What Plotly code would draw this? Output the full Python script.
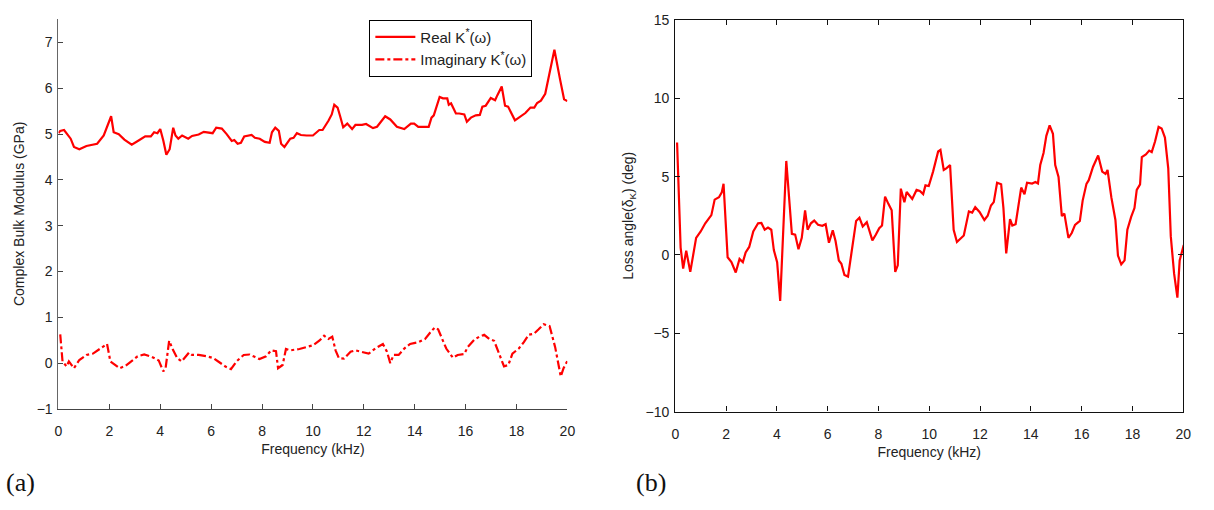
import plotly.graph_objects as go

# ---------------- data ----------------
real_f = [0.0, 0.07, 0.22, 0.39, 0.48, 0.61, 0.82, 1.10, 1.36, 1.52, 1.78, 2.07, 2.17, 2.37, 2.59, 2.88,
          3.15, 3.41, 3.63, 3.76, 3.89, 4.00, 4.12, 4.24, 4.37, 4.51, 4.60, 4.71, 4.86, 5.10, 5.25,
          5.51, 5.71, 5.90, 6.06, 6.20, 6.42, 6.61, 6.81, 6.91, 7.04, 7.17, 7.30, 7.59, 7.72, 7.91,
          8.11, 8.30, 8.39, 8.52, 8.66, 8.75, 8.88, 9.11, 9.24, 9.37, 9.53, 9.75, 10.0, 10.25, 10.38,
          10.61, 10.74, 10.84, 10.97, 11.07, 11.19, 11.35, 11.54, 11.67, 11.93, 12.09, 12.36, 12.52,
          12.84, 13.04, 13.30, 13.59, 13.85, 13.98, 14.14, 14.33, 14.55, 14.66, 14.75, 14.98, 15.11,
          15.28, 15.34, 15.43, 15.52, 15.62, 15.75, 15.95, 16.05, 16.21, 16.40, 16.56, 16.66, 16.79,
          16.99, 17.16, 17.25, 17.42, 17.55, 17.67, 17.94, 18.13, 18.35, 18.55, 18.70, 18.81, 18.96,
          19.13, 19.33, 19.49, 19.71, 19.87, 20.0]
real_k = [5.02, 5.07, 5.09, 4.95, 4.90, 4.72, 4.67, 4.74, 4.78, 4.79, 4.97, 5.39, 5.04, 5.00, 4.88, 4.77,
          4.86, 4.95, 4.95, 5.04, 5.02, 5.11, 4.86, 4.55, 4.67, 5.14, 4.97, 4.90, 4.97, 4.90, 4.96,
          4.99, 5.05, 5.04, 5.02, 5.14, 5.12, 5.00, 4.85, 4.87, 4.79, 4.81, 4.95, 4.98, 4.92, 4.90,
          4.83, 4.81, 5.04, 5.14, 5.07, 4.79, 4.72, 4.90, 4.92, 5.02, 4.98, 4.97, 4.97, 5.09, 5.09,
          5.29, 5.43, 5.64, 5.58, 5.39, 5.15, 5.23, 5.11, 5.20, 5.20, 5.22, 5.13, 5.16,
          5.39, 5.32, 5.16, 5.11, 5.23, 5.23, 5.16, 5.16, 5.16, 5.36, 5.41, 5.81, 5.78,
          5.78, 5.64, 5.67, 5.58, 5.45, 5.45, 5.43, 5.27, 5.36, 5.41, 5.42, 5.60, 5.62,
          5.79, 5.74, 5.85, 6.04, 5.62, 5.60, 5.30, 5.37, 5.46, 5.58, 5.58, 5.68, 5.73,
          5.88, 6.41, 6.84, 6.20, 5.76, 5.72]

imag_f = [0.07, 0.16, 0.32, 0.41, 0.61, 0.82, 1.10, 1.36, 1.62, 1.91, 2.04, 2.20, 2.40, 2.63, 2.92, 3.11,
          3.37, 3.66, 3.94, 4.12, 4.21, 4.35, 4.51, 4.67, 4.84, 5.13, 5.25, 5.51, 5.83, 6.09, 6.35,
          6.58, 6.78, 7.00, 7.28, 7.51, 7.71, 7.90, 8.16, 8.36, 8.55, 8.63, 8.81, 8.94, 9.11, 9.47,
          9.73, 10.0, 10.25, 10.44, 10.61, 10.76, 10.89, 11.02, 11.22, 11.48, 11.67, 11.93, 12.19,
          12.45, 12.75, 12.91, 13.04, 13.17, 13.37, 13.59, 13.82, 14.15, 14.41, 14.61, 14.79, 14.92,
          15.05, 15.24, 15.50, 15.69, 15.95, 16.08, 16.34, 16.54, 16.73, 16.93, 17.12, 17.32, 17.51,
          17.68, 17.84, 18.09, 18.29, 18.48, 18.68, 18.87, 19.07, 19.30, 19.52, 19.74, 19.85, 20.02]
imag_k = [0.63, 0.04, -0.07, 0.04, -0.11, 0.07, 0.18, 0.21, 0.31, 0.42, 0.04, -0.03, -0.11, -0.06, 0.07, 0.15,
          0.19, 0.14, 0.06, -0.18, -0.11, 0.49, 0.28, 0.11, 0.04, 0.23, 0.18, 0.18, 0.15, 0.11, 0.01,
          -0.08, -0.13, 0.04, 0.18, 0.19, 0.14, 0.09, 0.15, 0.28, 0.26, -0.11, -0.04, 0.31, 0.28, 0.31,
          0.35, 0.39, 0.49, 0.60, 0.53, 0.58, 0.28, 0.11, 0.10, 0.25, 0.28, 0.24, 0.21,
          0.32, 0.42, 0.25, 0.0, 0.18, 0.18, 0.32, 0.42, 0.46, 0.53, 0.67, 0.78, 0.74,
          0.56, 0.32, 0.12, 0.18, 0.20, 0.35, 0.51, 0.58, 0.62, 0.53, 0.49, 0.18, -0.07,
          -0.04, 0.21, 0.32, 0.46, 0.62, 0.64, 0.74, 0.85, 0.81, 0.35, -0.29, -0.11, 0.07]

loss_f = [0.07, 0.21, 0.31, 0.43, 0.59, 0.82, 1.00, 1.18, 1.42, 1.55, 1.72, 1.83, 1.90, 2.06, 2.21, 2.38,
          2.53, 2.66, 2.77, 2.91, 3.07, 3.26, 3.39, 3.52, 3.65, 3.78, 3.88, 4.01, 4.13, 4.37, 4.59,
          4.72, 4.85, 4.98, 5.11, 5.21, 5.34, 5.47, 5.62, 5.79, 5.92, 6.05, 6.20, 6.31, 6.44, 6.54,
          6.66, 6.80, 6.93, 7.12, 7.25, 7.38, 7.54, 7.67, 7.76, 7.90, 8.03, 8.14, 8.26, 8.39, 8.52,
          8.66, 8.76, 8.88, 9.02, 9.11, 9.33, 9.50, 9.63, 9.76, 9.85, 9.98, 10.15, 10.35, 10.44,
          10.57, 10.67, 10.82, 10.96, 11.09, 11.22, 11.36, 11.56, 11.69, 11.81, 11.98, 12.17, 12.30,
          12.43, 12.54, 12.67, 12.83, 12.92, 13.03, 13.18, 13.27, 13.40, 13.62, 13.75, 13.85, 14.05,
          14.18, 14.28, 14.37, 14.50, 14.61, 14.74, 14.87, 14.96, 15.09, 15.22, 15.32, 15.48, 15.61,
          15.74, 15.93, 16.04, 16.19, 16.28, 16.45, 16.65, 16.81, 16.94, 17.02, 17.17, 17.33, 17.43,
          17.56, 17.69, 17.80, 17.95, 18.08, 18.17, 18.30, 18.37, 18.53, 18.66, 18.76, 18.89, 19.03,
          19.15, 19.28, 19.41, 19.51, 19.64, 19.77, 19.86, 20.02]
loss_deg = [7.18, 0.47, -0.87, 0.27, -1.08, 1.09, 1.50, 2.02, 2.54, 3.53, 3.68, 3.99, 4.54, -0.15, -0.46, -1.12,
            -0.25, -0.46, 0.16, 0.51, 1.50, 2.02, 2.04, 1.61, 1.75, 1.61, 0.31, -0.46, -2.93, 6.00, 1.34,
            1.30, 0.37, 1.09, 2.85, 1.61, 2.02, 2.19, 1.92, 1.86, 1.96, 0.78, 1.57, 0.89, -0.35, -0.56,
            -1.28, -1.38, 0.06, 2.17, 2.38, 1.82, 2.09, 1.40, 0.93, 1.30, 1.71, 1.88, 3.72, 3.26, 2.85,
            -1.08, -0.66, 4.23, 3.36, 4.02, 3.57, 4.15, 4.08, 3.88, 4.44, 4.40, 5.32, 6.60, 6.70,
            5.42, 5.52, 5.73, 1.61, 0.83, 1.05, 1.24, 2.78, 2.70, 3.05, 2.74, 2.23, 2.50,
            3.16, 3.37, 4.61, 4.51, 3.00, 0.10, 2.29, 1.88, 1.96, 4.30, 3.88, 4.61, 4.56,
            4.65, 4.56, 5.74, 6.51, 7.60, 8.27, 7.73, 5.74, 4.98, 2.48, 2.64, 1.09, 1.40,
            1.92, 2.17, 3.47, 4.54, 4.77, 5.63, 6.35, 5.32, 5.17, 5.42, 3.67, 2.23, -0.04,
            -0.60, -0.35, 1.61, 2.43, 2.99, 4.15, 4.50, 6.25, 6.42, 6.66, 6.56, 7.24, 8.17,
            8.07, 7.49, 5.53, 1.20, -1.18, -2.73, -0.35, 0.64]

x_ticks = [0, 2, 4, 6, 8, 10, 12, 14, 16, 18, 20]
left_y_ticks = [-1, 0, 1, 2, 3, 4, 5, 6, 7]
right_y_ticks = [-10, -5, 0, 5, 10, 15]

# ---------------- figure ----------------
W, H = 1214, 510
RED = "#ff0000"
FONT = "Liberation Sans, Arial, sans-serif"

fig = go.Figure()
fig.add_trace(go.Scatter(x=real_f, y=real_k, mode="lines", name="Real K<sup>*</sup>(ω)",
                         line=dict(color=RED, width=2.2), xaxis="x", yaxis="y"))
fig.add_trace(go.Scatter(x=imag_f, y=imag_k, mode="lines", name="Imaginary K<sup>*</sup>(ω)",
                         line=dict(color=RED, width=2.2, dash="dashdot"), xaxis="x", yaxis="y"))
fig.add_trace(go.Scatter(x=loss_f, y=loss_deg, mode="lines", showlegend=False,
                         line=dict(color=RED, width=2.2), xaxis="x2", yaxis="y2"))

tickfont = dict(family=FONT, size=14, color="#222")
titlefont = dict(family=FONT, size=14, color="#222")
common = dict(ticks="inside", ticklen=5, tickwidth=1, showgrid=False, zeroline=False,
              showline=True, tickfont=tickfont)

fig.update_layout(
    width=W, height=H,
    margin=dict(l=0, r=0, t=0, b=0),
    paper_bgcolor="white", plot_bgcolor="white",
    font=dict(family=FONT, color="#222"),
    xaxis=dict(domain=[55 / W, 569 / W], range=[0, 20], tickvals=x_ticks, anchor="y",
               linecolor="#444", tickcolor="#444", ticklabelstandoff=9,
               title=dict(text="Frequency (kHz)", font=titlefont, standoff=6),
               **common),
    yaxis=dict(domain=[1 - 414 / H, 1 - 11 / H], range=[-1, 7.52], tickvals=left_y_ticks, anchor="x",
               linecolor="#666", tickcolor="#444", ticklabelstandoff=2,
               title=dict(text="Complex Bulk Modulus (GPa)", font=titlefont, standoff=8),
               **common),
    xaxis2=dict(domain=[678 / W, 1191 / W], range=[0, 20], tickvals=x_ticks, anchor="y2",
                linecolor="#111", tickcolor="#111", mirror="ticks", linewidth=1.3, ticklabelstandoff=9,
                title=dict(text="Frequency (kHz)", font=titlefont, standoff=6),
                **common),
    yaxis2=dict(domain=[1 - 416.7 / H, 1 - 12.3 / H], range=[-10, 15], tickvals=right_y_ticks, anchor="x2",
                linecolor="#111", tickcolor="#111", mirror="ticks", linewidth=1.3, ticklabelstandoff=2,
                title=dict(text="Loss angle(δ<sub>K</sub>) (deg)", font=titlefont, standoff=8),
                **common),
    legend=dict(x=369 / W, y=1 - 12 / H, xanchor="left", yanchor="top",
                bordercolor="#000", borderwidth=1, bgcolor="white",
                font=dict(family=FONT, size=15, color="#222"),
                tracegroupgap=4, itemwidth=40),
    showlegend=True,
)

fig.add_annotation(text="(a)", x=0, y=1 - 490 / H, xref="paper", yref="paper",
                   xanchor="left", yanchor="middle", showarrow=False,
                   font=dict(family="Liberation Serif, Times New Roman, serif", size=26, color="#111"))
fig.add_annotation(text="(b)", x=636 / W, y=1 - 490 / H, xref="paper", yref="paper",
                   xanchor="left", yanchor="middle", showarrow=False,
                   font=dict(family="Liberation Serif, Times New Roman, serif", size=26, color="#111"))

fig.write_html("out.html")
